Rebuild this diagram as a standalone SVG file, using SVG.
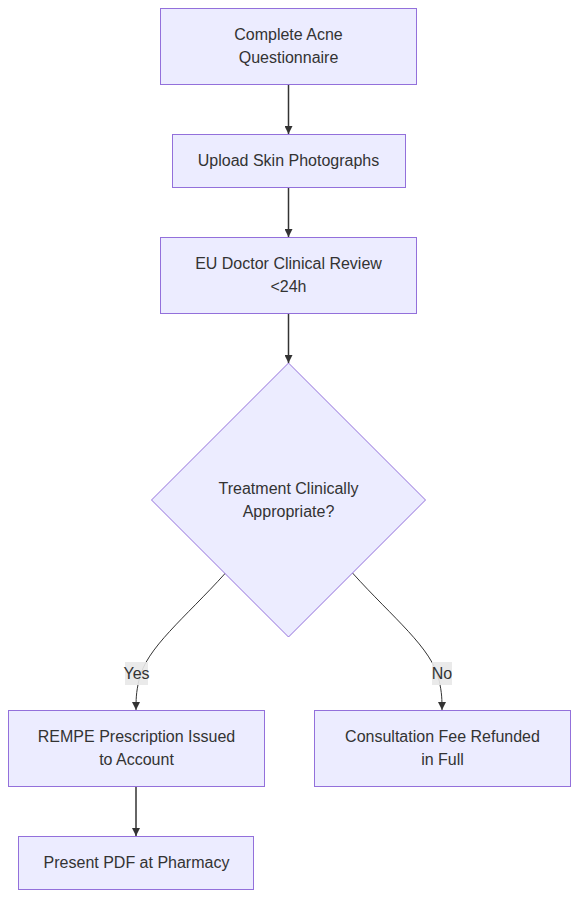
<svg xmlns="http://www.w3.org/2000/svg" width="586" height="910" viewBox="0 0 586 910">
<style>
.node rect,.node polygon{fill:#ECECFF;stroke:#9370DB;stroke-width:1px}
text{font-family:"Trebuchet MS","Liberation Sans",sans-serif;font-size:16px;fill:#333;text-anchor:middle}
.edge{fill:none;stroke:#333;stroke-width:1.5px}
.lbl{fill:#e8e8e8;opacity:0.9}
</style>
<defs>
<marker id="arrow" viewBox="0 0 10 10" refX="10" refY="5" markerWidth="8" markerHeight="8" markerUnits="userSpaceOnUse" orient="auto">
<path d="M0,0 L10,5 L0,10 z" fill="#333"/>
</marker>
</defs>
<rect width="586" height="910" fill="#fff"/>
<g id="connectors">
<path class="edge" d="M288.5,84 L288.5,134" marker-end="url(#arrow)"/>
<path class="edge" d="M288.5,187 L288.5,237" marker-end="url(#arrow)"/>
<path class="edge" d="M288.5,313 L288.5,363" marker-end="url(#arrow)"/>
<path class="edge" style="stroke-width:1px" d="M225.5,573 C185,618 146,648 139,680 C136,693 136,700 136,710" marker-end="url(#arrow)"/>
<path class="edge" style="stroke-width:1px" d="M352.5,573 C393,618 432,648 439,680 C442,693 442,700 442,710" marker-end="url(#arrow)"/>
<path class="edge" d="M136,787 L136,836" marker-end="url(#arrow)"/>
<g id="label-yes"><rect class="lbl" x="125" y="662" width="23" height="23"/><text x="136.5" y="679">Yes</text></g>
<g id="label-no"><rect class="lbl" x="432" y="662" width="20" height="23"/><text x="442" y="679">No</text></g>
</g>
<g id="nodeA" class="node"><rect x="160.5" y="8.5" width="256" height="76"/><text x="288.5" y="40">Complete Acne</text><text x="288.5" y="63">Questionnaire</text></g>
<g id="nodeB" class="node"><rect x="172.5" y="134.5" width="233" height="53"/><text x="288.5" y="166">Upload Skin Photographs</text></g>
<g id="nodeC" class="node"><rect x="160.5" y="237.5" width="256" height="76"/><text x="288.5" y="269">EU Doctor Clinical Review</text><text x="288.5" y="292">&lt;24h</text></g>
<g id="nodeD" class="node"><polygon points="288.5,363 425.5,500 288.5,637 151.5,500"/><text x="288.5" y="494">Treatment Clinically</text><text x="288.5" y="517">Appropriate?</text></g>
<g id="nodeE" class="node"><rect x="8.5" y="710.5" width="256" height="76"/><text x="136.5" y="742">REMPE Prescription Issued</text><text x="136.5" y="765">to Account</text></g>
<g id="nodeF" class="node"><rect x="314.5" y="710.5" width="256" height="76"/><text x="442.5" y="742">Consultation Fee Refunded</text><text x="442.5" y="765">in Full</text></g>
<g id="nodeG" class="node"><rect x="18.5" y="836.5" width="235" height="53"/><text x="136.5" y="868">Present PDF at Pharmacy</text></g>
</svg>
